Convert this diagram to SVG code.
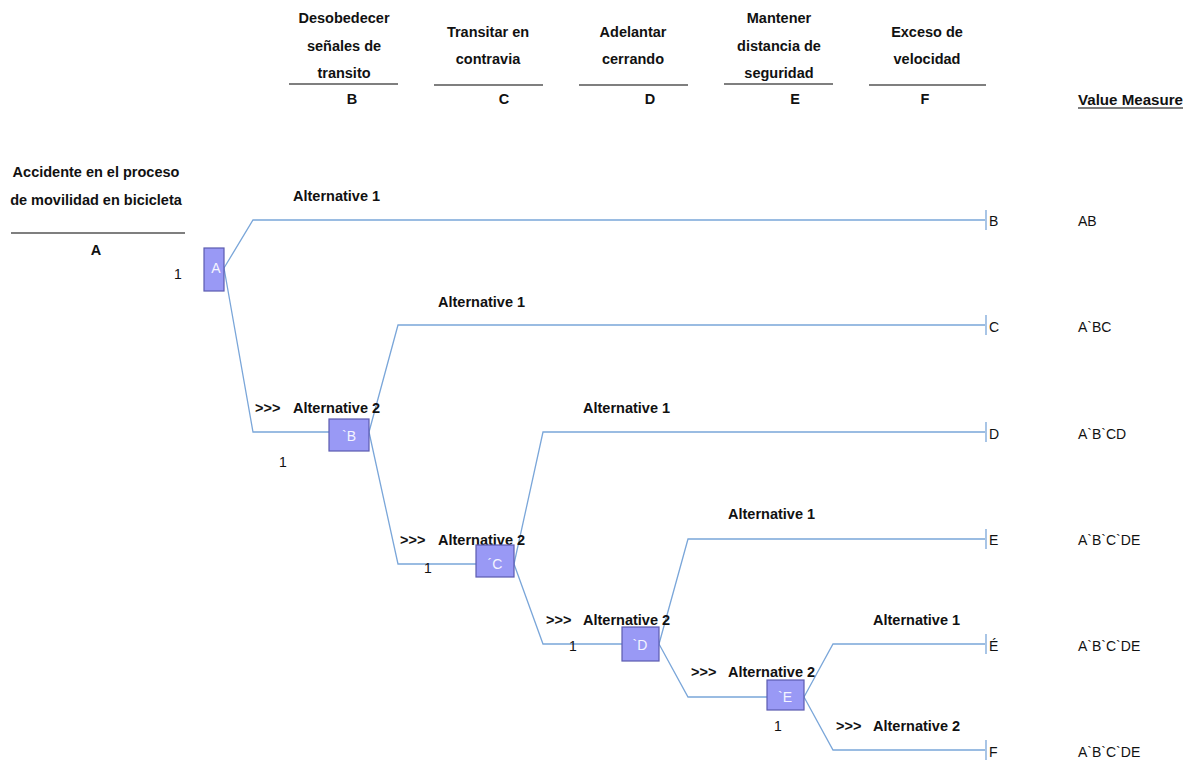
<svg xmlns="http://www.w3.org/2000/svg" width="1192" height="761" viewBox="0 0 1192 761">
<style>
text{font-family:"Liberation Sans",Arial,sans-serif;font-size:14px;fill:#111}
.b{font-weight:bold;font-size:14.5px}
.m{text-anchor:middle}
.hl{stroke:#000;stroke-width:1.2}
.cn{fill:none;stroke:#7aa6d9;stroke-width:1.3}
.box{fill:#9999f5;stroke:#5b5bb0;stroke-width:1.2}
.bt{fill:#f4f4ff;font-size:14px;text-anchor:middle}
.tk{stroke:#7aa6d9;stroke-width:1.3}
</style>
<rect width="1192" height="761" fill="#fff"/>
<g id="headers">
<g id="hdr-A">
<text class="m b" x="96" y="177">Accidente en el proceso</text>
<text class="m b" x="96" y="205">de movilidad en bicicleta</text>
<line class="hl" x1="11" y1="233" x2="185" y2="233"/>
<text class="m b" x="96" y="255">A</text>
</g>
<g id="hdr-B">
<text class="m b" x="344" y="23">Desobedecer</text>
<text class="m b" x="344" y="51">señales de</text>
<text class="m b" x="344" y="78">transito</text>
<line class="hl" x1="289" y1="84" x2="398" y2="84"/>
<text class="m b" x="352" y="104">B</text>
</g>
<g id="hdr-C">
<text class="m b" x="488" y="37">Transitar en</text>
<text class="m b" x="488" y="64">contravia</text>
<line class="hl" x1="434" y1="85" x2="543" y2="85"/>
<text class="m b" x="504" y="104">C</text>
</g>
<g id="hdr-D">
<text class="m b" x="633" y="37">Adelantar</text>
<text class="m b" x="633" y="64">cerrando</text>
<line class="hl" x1="579" y1="85" x2="688" y2="85"/>
<text class="m b" x="650" y="104">D</text>
</g>
<g id="hdr-E">
<text class="m b" x="779" y="23">Mantener</text>
<text class="m b" x="779" y="51">distancia de</text>
<text class="m b" x="779" y="78">seguridad</text>
<line class="hl" x1="724" y1="84" x2="833" y2="84"/>
<text class="m b" x="795" y="104">E</text>
</g>
<g id="hdr-F">
<text class="m b" x="927" y="37">Exceso de</text>
<text class="m b" x="927" y="64">velocidad</text>
<line class="hl" x1="869" y1="85" x2="986" y2="85"/>
<text class="m b" x="925" y="104">F</text>
</g>
<g id="hdr-VM">
<text class="b" x="1078" y="105" textLength="105" lengthAdjust="spacingAndGlyphs">Value Measure</text>
<line class="hl" x1="1078" y1="108" x2="1183" y2="108"/>
</g>
</g>
<g id="connectors">
<polyline class="cn" points="224,268 253,220 985,220"/>
<polyline class="cn" points="224,268 253,432 329,432"/>
<polyline class="cn" points="369,432 398,325 985,325"/>
<polyline class="cn" points="369,432 398,564 476,564"/>
<polyline class="cn" points="514,564 543,432 985,432"/>
<polyline class="cn" points="514,564 543,644 622,644"/>
<polyline class="cn" points="659,644 688,539 985,539"/>
<polyline class="cn" points="659,644 688,697 767,697"/>
<polyline class="cn" points="804,697 833,644 985,644"/>
<polyline class="cn" points="804,697 833,750 985,750"/>
<line class="tk" x1="986" y1="210" x2="986" y2="230"/>
<line class="tk" x1="986" y1="315" x2="986" y2="335"/>
<line class="tk" x1="986" y1="422" x2="986" y2="442"/>
<line class="tk" x1="986" y1="529" x2="986" y2="549"/>
<line class="tk" x1="986" y1="634" x2="986" y2="654"/>
<line class="tk" x1="986" y1="740" x2="986" y2="760"/>
</g>
<g id="labels">
<text class="b" x="293" y="201">Alternative 1</text>
<text class="b" x="255" y="413">&gt;&gt;&gt;</text>
<text class="b" x="293" y="413">Alternative 2</text>
<text class="b" x="438" y="307">Alternative 1</text>
<text class="b" x="400" y="545">&gt;&gt;&gt;</text>
<text class="b" x="438" y="545">Alternative 2</text>
<text class="b" x="583" y="413">Alternative 1</text>
<text class="b" x="546" y="625">&gt;&gt;&gt;</text>
<text class="b" x="583" y="625">Alternative 2</text>
<text class="b" x="728" y="519">Alternative 1</text>
<text class="b" x="691" y="677">&gt;&gt;&gt;</text>
<text class="b" x="728" y="677">Alternative 2</text>
<text class="b" x="873" y="625">Alternative 1</text>
<text class="b" x="836" y="731">&gt;&gt;&gt;</text>
<text class="b" x="873" y="731">Alternative 2</text>
<text x="174" y="279">1</text>
<text x="279" y="467">1</text>
<text x="424" y="573">1</text>
<text x="569" y="651">1</text>
<text x="774" y="731">1</text>
</g>
<g id="node-A"><rect class="box" x="204" y="248" width="20" height="43"/><text class="bt" x="216" y="273">A</text></g>
<g id="node-B"><rect class="box" x="329" y="419" width="40" height="32"/><text class="bt" x="349" y="441">`B</text></g>
<g id="node-C"><rect class="box" x="476" y="545" width="38" height="32"/><text class="bt" x="495" y="569">´C</text></g>
<g id="node-D"><rect class="box" x="622" y="627" width="37" height="34"/><text class="bt" x="640" y="650">`D</text></g>
<g id="node-E"><rect class="box" x="767" y="680" width="37" height="30"/><text class="bt" x="785" y="702">`E</text></g>
<g id="endpoints">
<text x="989" y="226">B</text>
<text x="989" y="332">C</text>
<text x="989" y="439">D</text>
<text x="989" y="545">E</text>
<text x="989" y="651">É</text>
<text x="989" y="757">F</text>
</g>
<g id="values">
<text x="1078" y="226">AB</text>
<text x="1078" y="332">A`BC</text>
<text x="1078" y="439">A`B`CD</text>
<text x="1078" y="545">A`B`C`DE</text>
<text x="1078" y="651">A`B`C`DE</text>
<text x="1078" y="757">A`B`C`DE</text>
</g>
</svg>
